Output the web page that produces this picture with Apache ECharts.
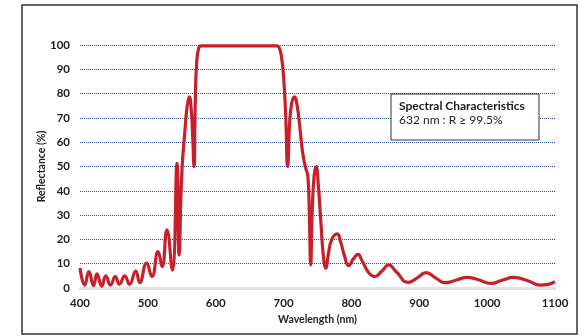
<!DOCTYPE html>
<html>
<head>
<meta charset="utf-8">
<script src="https://cdn.jsdelivr.net/npm/echarts@6/dist/echarts.min.js"></script>
<style>
html,body{margin:0;padding:0;background:#fff;}
#c{width:588px;height:336px;}
</style>
</head>
<body>
<div id="c"></div>
<script>
// Wavelength (nm) and reflectance (%)
var wavelengths = [400,407,413,420,425,432,438,445,452,458,466,473,482,488,498,506,515,521,528,536,543,546,550,555,558,561,564,566,568,570,572,575,578,690,694,697,700,703,706,709,712,716,720,724,728,732,736,738,740,742,745,748,751,755,759,762,766,771,779,784,790,796,803,809.5,816,825,834,845,855,865,884,897,910,924,938,955,970,988,1005,1022,1039,1060,1078,1090,1100];
var reflectance = [8.2,1.2,6.7,1.0,5.8,0.8,5.0,1.2,4.7,1.6,5.0,1.5,7.0,2.2,10.2,4.7,15.0,8.8,23.9,7.4,51.3,13.6,47,66,75,78.7,73,63,50,78,93,98.8,99.6,99.6,98.5,95,87,72,50,68,76,78.7,75,66,56,50,45.5,30,9.5,30,46,50,43,27,12,8.1,14,20,22.3,19,13,9.2,12,13.8,11,6.5,4.7,7,9.5,7,2.3,4.2,6.3,4.2,2.2,3.3,4.4,3.3,1.9,3.2,4.4,3,1.2,1.5,2.6];
var yTicks = [0,10,20,30,40,50,60,70,80,90,100];
var xTicks = [400,500,600,700,800,900,1000,1100];
var xTitle = 'Wavelength (nm)';
var yTitle = 'Reflectance (%)';
var boxTitle = 'Spectral Characteristics';
var boxLine = '632 nm : R \u2265 99.5%';

var pts = wavelengths.map(function(w,i){return [w, reflectance[i]];});
var font = 'Lato, "Noto Sans", sans-serif';
var chart = echarts.init(document.getElementById('c'), null, {renderer:'canvas'});
chart.setOption({
  animation:false,
  backgroundColor:'#fff',
  grid:{left:80,right:33,top:45,bottom:48},
  xAxis:{
    type:'value',min:xTicks[0],max:xTicks[xTicks.length-1],interval:100,
    name:xTitle,nameLocation:'middle',nameGap:26,nameMoveOverlap:false,
    nameTextStyle:{fontFamily:font,fontWeight:'bold',fontSize:10.5,color:'#222'},
    axisLine:{show:true,lineStyle:{color:'#e2e2e2',width:3}},
    axisTick:{show:false},
    splitLine:{show:false},
    axisLabel:{fontFamily:font,fontWeight:'bold',fontSize:11.5,color:'#222',margin:9,
      formatter:function(v){return String(v);}}
  },
  yAxis:{
    type:'value',min:yTicks[0],max:yTicks[yTicks.length-1],interval:10,
    name:yTitle,nameLocation:'middle',nameGap:33,nameRotate:90,nameMoveOverlap:false,
    nameTextStyle:{fontFamily:font,fontWeight:'bold',fontSize:10.5,color:'#222'},
    axisLine:{show:false},axisTick:{show:false},
    axisLabel:{fontFamily:font,fontWeight:'bold',fontSize:11.5,color:'#222',margin:10,
      formatter:function(v){return String(v);}},
    splitLine:{show:true,lineStyle:{color:'#24508f',type:'dotted',width:1}}
  },
  series:[{
    type:'line',data:pts,showSymbol:false,smooth:0.5,
    lineStyle:{color:'#c8202a',width:3.2},z:5
  }],
  graphic:[
    {type:'rect',shape:{x:22,y:5,width:555,height:329},style:{fill:'none',stroke:'#333',lineWidth:1.5},silent:true},
    {type:'rect',shape:{x:391,y:94,width:148,height:46},style:{fill:'#fff',stroke:'#333',lineWidth:1},z:10},
    {type:'text',x:399,y:100,style:{text:boxTitle,font:'bold 12px '+font,fill:'#222'},z:11},
    {type:'text',x:399,y:114,style:{text:boxLine,font:'12px '+font,fill:'#222'},z:11}
  ]
});
</script>
</body>
</html>
